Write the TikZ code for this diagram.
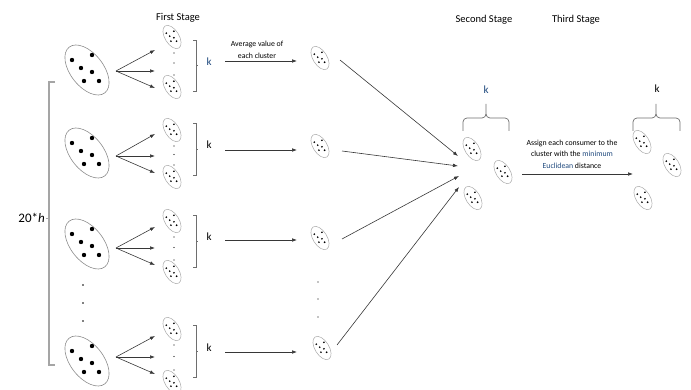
\documentclass[tikz,border=0pt]{standalone}
\usepackage{fontspec}
\setmainfont{Carlito}
\usetikzlibrary{shapes.geometric,arrows.meta}
\definecolor{kblue}{RGB}{31,73,125}
\definecolor{ellgray}{RGB}{140,140,140}
\definecolor{lightell}{RGB}{170,170,170}
\definecolor{arrgray}{RGB}{55,55,55}
\definecolor{brgray}{RGB}{110,110,110}
\definecolor{bigbrgray}{RGB}{165,165,165}
\newcommand{\bigcl}[3]{%
  \node[bigell] (#1) at (#2,#3) {};
  \begin{scope}[shift={(#2,#3)}]
    \foreach \dx/\dy in {-15/-10,5/-15,-6/-2,5/2,-3/11,12/11} \fill (\dx,\dy) circle (2.2pt);
  \end{scope}}
\newcommand{\smallcl}[3]{%
  \node[smallell] (#1) at (#2,#3) {};
  \begin{scope}[shift={(#2,#3)}]
    \foreach \dx/\dy in {-5.7/-3.8,1.9/-5.7,-2.3/-0.8,1.9/0.8,-1.1/4.2,4.6/4.2} \fill (\dx,\dy) circle (0.95pt);
  \end{scope}}
\begin{document}
\begin{tikzpicture}[x=1pt,y=-1pt,
  bigell/.style={ellipse, draw=ellgray, line width=0.6pt, minimum width=58pt, minimum height=33pt, inner sep=0pt, rotate=-52},
  smallell/.style={ellipse, draw=lightell, line width=0.5pt, minimum width=26pt, minimum height=14pt, inner sep=0pt, rotate=-58},
  arr/.style={-{Latex[length=5pt,width=3.6pt]}, draw=arrgray, line width=0.6pt},
  brk/.style={draw=brgray, line width=0.7pt},
  bigbrk/.style={draw=bigbrgray, line width=1.3pt},
  stagelbl/.style={font=\fontsize{10.5}{12}\selectfont, text=black, inner sep=0pt},
  klbl/.style={font=\fontsize{11}{12}\selectfont, inner sep=0pt},
  notetext/.style={font=\fontsize{7.8}{11.5}\selectfont, align=center, inner sep=0pt, text=black}]
\useasboundingbox (0,0) rectangle (691,390);

% stage labels
\node[stagelbl] (first) at (178,18) {First Stage};
\node[stagelbl] (second) at (484,20) {Second Stage};
\node[stagelbl] (third) at (576,20) {Third Stage};

% left bracket
\draw[bigbrk] (55,82) -- (49,82) -- (49,365) -- (55,365);
\draw[bigbrk, line width=0.8pt] (45.5,218) -- (49,218);
\node[font=\fontsize{13}{14}\selectfont, inner sep=0pt, anchor=east] (lab20) at (45,218) {20*\textit{h}};

% groups
\foreach \i/\by/\hs/\ht/\hm/\hl/\st/\sb/\bt/\bb/\kc in {
  1/70/71/50/71/88/37/87/40/91/kblue,
  2/153/156/134/156/173/130/177/123/175/black,
  3/244/248/227/248/265/221/272/215/267/black,
  4/361/357/336/357/374/329/382/325/377/black}{
  \bigcl{big\i}{87}{\by}
  \coordinate (src\i) at (116,\hs);
  \coordinate (ht\i) at (155,\ht);
  \coordinate (hm\i) at (155,\hm);
  \coordinate (hl\i) at (155,\hl);
  \draw[arr] (src\i) -- (ht\i);
  \draw[arr] (src\i) -- (hm\i);
  \draw[arr] (src\i) -- (hl\i);
  \smallcl{st\i}{172}{\st}
  \smallcl{sb\i}{172}{\sb}
  \fill (174,{\st+16}) circle (0.55pt);
  \fill (174,{(\st+\sb)/2+1}) circle (0.55pt);
  \fill (174,{\sb-12}) circle (0.55pt);
  \draw[brk] (193,\bt) -- (196,\bt) -- (196,\bb) -- (193,\bb);
  \draw[brk] (196,{(\bt+\bb)/2}) -- (198,{(\bt+\bb)/2});
  \node[klbl, text=\kc] (k\i) at (209,{(\bt+\bb)/2}) {k};
}

% dots between big clusters
\fill (83,285) circle (0.8pt);
\fill (83,303) circle (0.8pt);
\fill (83,321) circle (0.8pt);

% average arrows and mid clusters
\node[notetext] (avg) at (257,50) {Average value of\\each cluster};
\foreach \i/\ay/\mx/\my in {1/61/320/58, 2/150/320/146, 3/240/320/238, 4/352/322/348}{
  \coordinate (as\i) at (225,\ay);
  \coordinate (ae\i) at (297,\ay);
  \draw[arr] (as\i) -- (ae\i);
  \smallcl{mid\i}{\mx}{\my}
}
\fill (318,282) circle (0.6pt);
\fill (318,299) circle (0.6pt);
\fill (318,317) circle (0.6pt);

% converging arrows
\coordinate (cs1) at (340,60);
\coordinate (cs2) at (342,151);
\coordinate (cs3) at (342,239);
\coordinate (cs4) at (337,345);
\coordinate (ce1) at (458,156);
\coordinate (ce2) at (458,166);
\coordinate (ce3) at (459,176);
\coordinate (ce4) at (459,187);
\foreach \i in {1,2,3,4} \draw[arr] (cs\i) -- (ce\i);

% second stage
\smallcl{s2a}{472}{149}
\smallcl{s2b}{503}{172}
\smallcl{s2c}{473}{198}
\draw[brk] (463,131) -- (463,122) to[out=90,in=180] (467,118) -- (482,118) to[out=0,in=-90] (486,114) -- (486,104);
\draw[brk] (509,131) -- (509,122) to[out=90,in=0] (505,118) -- (490,118) to[out=180,in=-90] (486,114);
\node[klbl, text=kblue] (k2nd) at (486,90) {k};

% assign arrow
\node[notetext] (assign) at (572,154) {Assign each consumer to the\\cluster with the \textcolor{kblue}{minimum}\\\textcolor{kblue}{Euclidean} distance};
\coordinate (asg1) at (522,174);
\coordinate (asg2) at (633,174);
\draw[arr] (asg1) -- (asg2);

% third stage
\smallcl{s3a}{642}{142}
\smallcl{s3b}{672}{165}
\smallcl{s3c}{643}{198}
\draw[brk] (633,131) -- (633,122) to[out=90,in=180] (637,118) -- (652,118) to[out=0,in=-90] (656,114) -- (656,104);
\draw[brk] (680,131) -- (680,122) to[out=90,in=0] (676,118) -- (660,118) to[out=180,in=-90] (656,114);
\node[klbl, text=black] (k3rd) at (657,89) {k};
\end{tikzpicture}
\end{document}
